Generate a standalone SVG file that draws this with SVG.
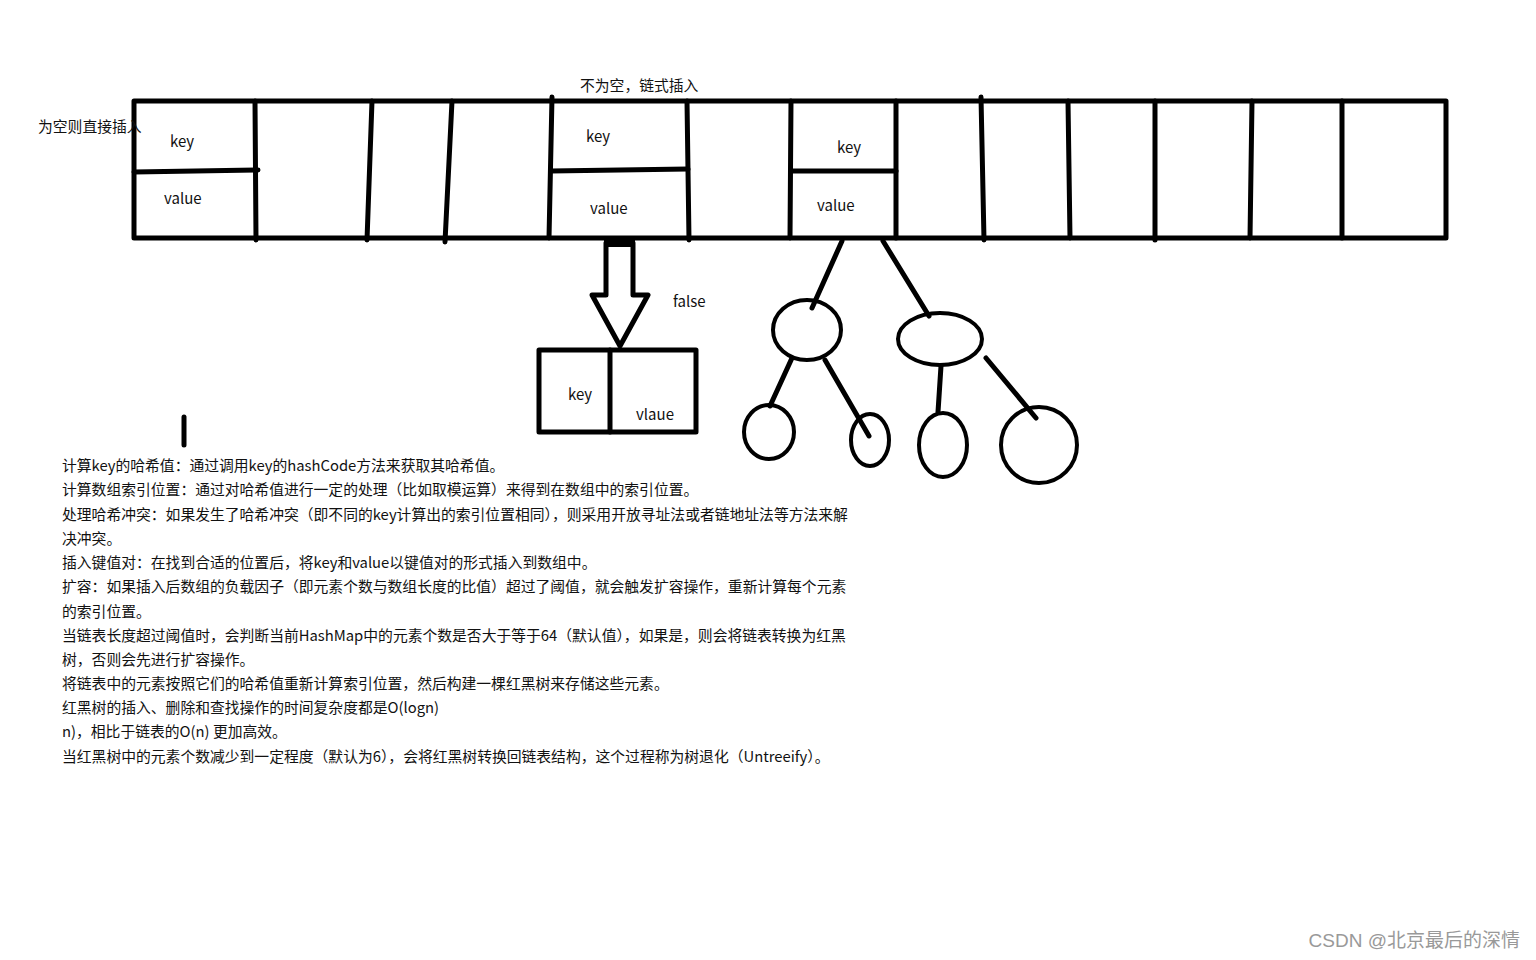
<svg xmlns="http://www.w3.org/2000/svg" width="1536" height="960" viewBox="0 0 1536 960">
<style>
.s{fill:none;stroke:#000;stroke-width:5;stroke-linecap:round;stroke-linejoin:round}
.c{fill:none;stroke:#000;stroke-width:4}
.t{font-family:"Noto Sans CJK SC","Microsoft YaHei",sans-serif;font-size:14.8px;fill:#111}
.k{font-family:"Noto Sans CJK SC","Microsoft YaHei",sans-serif;font-size:15px;fill:#111}
.w{font-family:"Liberation Sans","Noto Sans CJK SC",sans-serif;font-size:19px;fill:#999}
</style>
<rect width="1536" height="960" fill="#fff"/>
<g id="array">
<rect class="s" x="134" y="101" width="1312" height="137"/>
<path class="s" d="M255 101L256 240M372 101L367 240M452 101L445 242M552 97L549 238M687 101L689 240M791 101L790 238M896 101L896 238M981 97L984 240M1068 101L1070 238M1155 101L1155 240M1252 101L1250 238M1342 101L1342 238"/>
</g>
<g id="cell-1">
<path class="s" d="M134 172L258 170"/>
<text class="k" x="170" y="147">key</text>
<text class="k" x="164" y="204">value</text>
</g>
<g id="cell-2">
<path class="s" d="M551 171L688 169"/>
<text class="k" x="586" y="142">key</text>
<text class="k" x="590" y="214">value</text>
</g>
<g id="cell-3">
<path class="s" d="M791 171L896 171"/>
<text class="k" x="837" y="153">key</text>
<text class="k" x="817" y="211">value</text>
</g>
<g id="labels">
<text class="t" x="38" y="132">为空则直接插入</text>
<text class="t" x="580" y="91">不为空，链式插入</text>
<text class="k" x="673" y="307">false</text>
</g>
<g id="arrow">
<polygon class="s" points="606,243 606,295 592,295 620,346 648,295 633,295 633,243"/>
<rect x="604" y="240" width="31" height="7" fill="#000"/>
</g>
<g id="new-node">
<rect class="s" x="539" y="350" width="157" height="82"/>
<path class="s" d="M610 350L610 432"/>
<text class="k" x="568" y="400">key</text>
<text class="k" x="636" y="420">vlaue</text>
</g>
<g id="connectors">
<path class="s" d="M842 241L812 308M883 241L929 316M792 358L770 406M825 360L869 436M941 366L938 412M986 358L1036 418"/>
</g>
<g id="tree-1"><ellipse class="c" cx="807" cy="330" rx="34" ry="30"/></g>
<g id="tree-2"><ellipse class="c" cx="940" cy="339" rx="42" ry="26"/></g>
<g id="tree-3"><ellipse class="c" cx="769" cy="432" rx="25" ry="27"/></g>
<g id="tree-4"><ellipse class="c" cx="870" cy="440" rx="19" ry="26"/></g>
<g id="tree-5"><ellipse class="c" cx="943" cy="445" rx="24" ry="32"/></g>
<g id="tree-6"><ellipse class="c" cx="1039" cy="445" rx="38" ry="38"/></g>
<path class="s" d="M184 417L184 445" stroke-width="4"/>
<g id="notes">
<text class="t" x="62" y="471">计算key的哈希值：通过调用key的hashCode方法来获取其哈希值。</text>
<text class="t" x="62" y="495">计算数组索引位置：通过对哈希值进行一定的处理（比如取模运算）来得到在数组中的索引位置。</text>
<text class="t" x="62" y="520">处理哈希冲突：如果发生了哈希冲突（即不同的key计算出的索引位置相同），则采用开放寻址法或者链地址法等方法来解</text>
<text class="t" x="62" y="544">决冲突。</text>
<text class="t" x="62" y="568">插入键值对：在找到合适的位置后，将key和value以键值对的形式插入到数组中。</text>
<text class="t" x="62" y="592">扩容：如果插入后数组的负载因子（即元素个数与数组长度的比值）超过了阈值，就会触发扩容操作，重新计算每个元素</text>
<text class="t" x="62" y="617">的索引位置。</text>
<text class="t" x="62" y="641">当链表长度超过阈值时，会判断当前HashMap中的元素个数是否大于等于64（默认值），如果是，则会将链表转换为红黑</text>
<text class="t" x="62" y="665">树，否则会先进行扩容操作。</text>
<text class="t" x="62" y="689">将链表中的元素按照它们的哈希值重新计算索引位置，然后构建一棵红黑树来存储这些元素。</text>
<text class="t" x="62" y="713">红黑树的插入、删除和查找操作的时间复杂度都是O(logn)</text>
<text class="t" x="62" y="737">n)，相比于链表的O(n) 更加高效。</text>
<text class="t" x="62" y="762">当红黑树中的元素个数减少到一定程度（默认为6），会将红黑树转换回链表结构，这个过程称为树退化（Untreeify）。</text>
</g>
<text class="w" x="1520" y="947" text-anchor="end">CSDN @北京最后的深情</text>
</svg>
